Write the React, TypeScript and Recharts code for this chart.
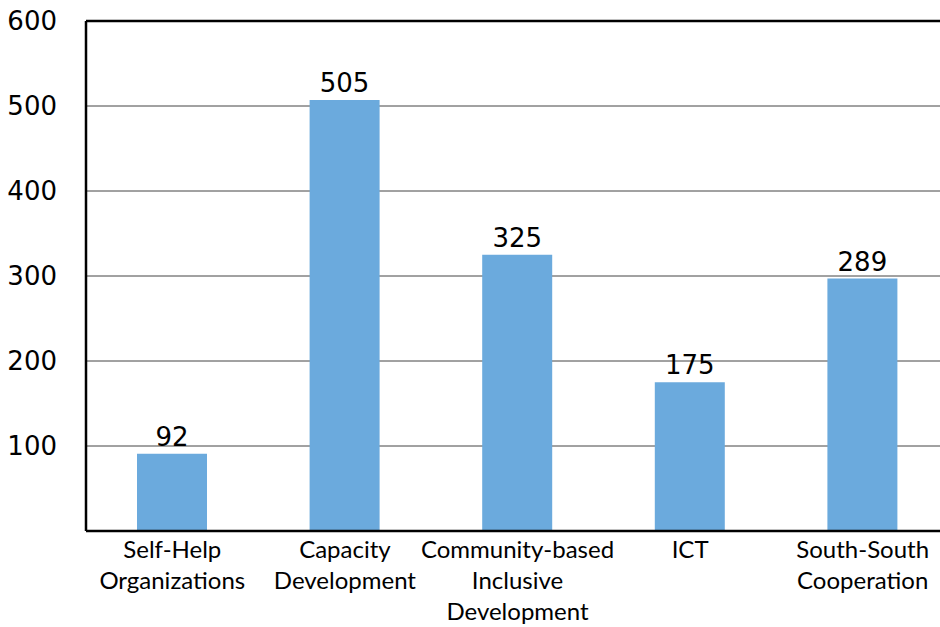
import React from "react";
import { BarChart, Bar, XAxis, YAxis, CartesianGrid, ReferenceLine, LabelList } from "recharts";

const categories = ["Self-Help Organizations", "Capacity Development", "Community-based Inclusive Development", "ICT", "South-South Cooperation"];
const categoryLines = [["Self-Help", "Organizations"], ["Capacity", "Development"], ["Community-based", "Inclusive", "Development"], ["ICT"], ["South-South", "Cooperation"]];
const barValues = [91, 507, 325, 175, 297];
const valueLabels = ["92", "505", "325", "175", "289"];
const yTicks = [100, 200, 300, 400, 500, 600];

const data = categories.map((c, i) => ({ name: c, value: barValues[i], label: valueLabels[i], idx: i }));

const XTick = (props: any) => {
  const { x, y, index } = props;
  const lines = categoryLines[index] || [];
  return (
    <text x={x} y={y + 27} textAnchor="middle" fontFamily="Lato" fontSize={24} fill="#000">
      {lines.map((l, i) => (
        <tspan key={i} x={x} dy={i === 0 ? 0 : 31}>{l}</tspan>
      ))}
    </text>
  );
};

const ValueLabel = (props: any) => {
  const { x, y, width, index } = props;
  return (
    <text x={x + width / 2} y={y - 8} textAnchor="middle" fontFamily="DejaVu Sans" fontSize={26} fill="#000">
      {valueLabels[index]}
    </text>
  );
};

export default function App() {
  return (
    <div style={{ position: "fixed", left: 0, top: 0, width: 940, height: 627, overflow: "hidden", background: "#fff" }}>
      <BarChart width={960} height={627} data={data} margin={{ top: 21, right: 11, bottom: 0, left: 0 }}>
        <CartesianGrid vertical={false} stroke="#444" strokeWidth={1} />
        <XAxis
          dataKey="name"
          interval={0}
          tick={<XTick />}
          tickLine={false}
          tickSize={0}
          tickMargin={0}
          height={96}
          axisLine={{ stroke: "#000", strokeWidth: 2.5 }}
        />
        <YAxis
          domain={[0, 600]}
          ticks={yTicks}
          width={86}
          tickLine={false}
          tickSize={0}
          tickMargin={29}
          axisLine={{ stroke: "#000", strokeWidth: 2.5 }}
          tick={{ fontFamily: "DejaVu Sans", fontSize: 26, fill: "#000" }}
        />
        <ReferenceLine y={600} stroke="#000" strokeWidth={2.5} />
        <Bar dataKey="value" fill="#6BAADD" barSize={70} isAnimationActive={false}>
          <LabelList dataKey="label" content={<ValueLabel />} />
        </Bar>
      </BarChart>
    </div>
  );
}
